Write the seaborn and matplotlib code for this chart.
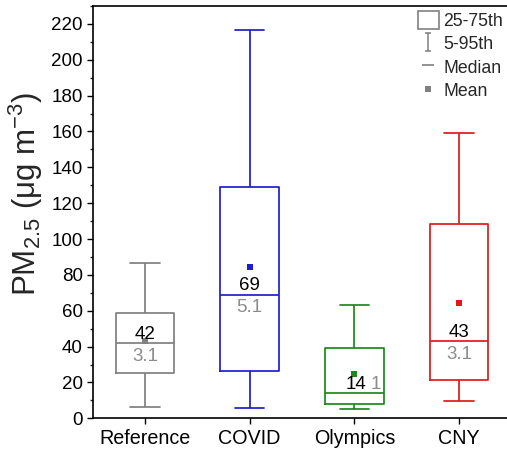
import matplotlib
matplotlib.use("Agg")
import matplotlib.pyplot as plt
import pandas as pd
import seaborn as sns
from matplotlib.lines import Line2D
from matplotlib.patches import Patch
from matplotlib.path import Path
from matplotlib.ticker import MultipleLocator

# PM2.5 summary statistics per period (ug m-3)
periods = ["Reference", "COVID", "Olympics", "CNY"]
p5 = [6.1, 5.6, 5.4, 9.8]
p25 = [25.1, 26.6, 7.8, 21.4]
median = [42, 69, 14, 43]
p75 = [59.0, 129.3, 39.1, 108.3]
p95 = [86.5, 216.8, 63.3, 159.1]
means = [43.0, 84.3, 24.6, 64.5]
ratio_labels = ["3.1", "5.1", "1", "3.1"]
colors = ["#808080", "#1f1fc8", "#1a8a1a", "#e0191b"]

sns.set_style("ticks")
plt.rcParams["font.family"] = ["Liberation Sans", "DejaVu Sans"]
plt.rcParams["mathtext.fontset"] = "custom"
plt.rcParams["mathtext.rm"] = "Liberation Sans"
plt.rcParams["mathtext.it"] = "Liberation Sans:italic"
plt.rcParams["mathtext.default"] = "regular"

# five-number rows per period; whiskers span 5th-95th
rows = []
for name, a, b, c, d, e in zip(periods, p5, p25, median, p75, p95):
    for v in (a, b, c, d, e):
        rows.append({"period": name, "pm": v})
df = pd.DataFrame(rows)
mean_df = pd.DataFrame({"period": periods, "pm": means})
palette = dict(zip(periods, colors))

fig = plt.figure(figsize=(5.07, 4.51), dpi=100)
ax = fig.add_axes([92.5 / 507, 32.7 / 451, 419 / 507, 412.3 / 451])

sns.boxplot(data=df, x="period", y="pm", hue="period", order=periods,
            hue_order=periods, palette=palette, fill=False, width=0.56,
            whis=(0, 100), linewidth=1.25, showfliers=False, legend=False,
            ax=ax)
sns.stripplot(data=mean_df, x="period", y="pm", hue="period", order=periods,
              hue_order=periods, palette=palette, jitter=False, marker="s",
              size=4.8, linewidth=0, legend=False, ax=ax, zorder=3)

lab_fs = 13.5
for i, (m, r) in enumerate(zip(median, ratio_labels)):
    if i == 2:
        ax.annotate(str(m), xy=(i, m), xytext=(1, 3), textcoords="offset points",
                    ha="center", va="baseline", fontsize=lab_fs, color="black", zorder=5)
        ax.annotate(r, xy=(i, m), xytext=(15.5, 3), textcoords="offset points",
                    ha="center", va="baseline", fontsize=lab_fs, color="#8c8c8c", zorder=5)
    else:
        ax.annotate(str(m), xy=(i, m), xytext=(0, 3), textcoords="offset points",
                    ha="center", va="baseline", fontsize=lab_fs, color="black", zorder=5)
        ax.annotate(r, xy=(i, m), xytext=(0, -3.5), textcoords="offset points",
                    ha="center", va="top", fontsize=lab_fs, color="#8c8c8c", zorder=5)

ax.set_xlim(-0.5, 3.5)
ax.set_ylim(0, 230)
ax.yaxis.set_major_locator(MultipleLocator(20))
ax.yaxis.set_minor_locator(MultipleLocator(10))
ax.tick_params(axis="both", which="major", direction="out", length=4.5,
               width=1.0, colors="black")
ax.tick_params(axis="x", labelsize=14.2, pad=3)
ax.tick_params(axis="y", labelsize=13.5, pad=2.5)
ax.tick_params(axis="y", which="minor", direction="out", length=2.5, width=1.0)
ax.set_xlabel("")
ax.set_ylabel("PM$_{2.5}$ (μg m$^{-3}$)", fontsize=22.5)
ax.yaxis.set_label_coords(-0.113, 0.545)
for s in ax.spines.values():
    s.set_visible(True)
    s.set_linewidth(1.2)
    s.set_color("black")

ibeam = Path([(-0.3, 1), (0.3, 1), (0, 1), (0, -1), (-0.3, -1), (0.3, -1)],
             [Path.MOVETO, Path.LINETO, Path.MOVETO, Path.LINETO,
              Path.MOVETO, Path.LINETO])
handles = [
    Patch(facecolor="white", edgecolor="#808080", linewidth=1.2),
    Line2D([], [], linestyle="none", marker=ibeam, markersize=13,
           markeredgecolor="#808080", markerfacecolor="none", markeredgewidth=1.1),
    Line2D([], [], linestyle="none", marker="_", markersize=8,
           markeredgecolor="#808080", markeredgewidth=1.2),
    Line2D([], [], linestyle="none", marker="s", markersize=4.5,
           markerfacecolor="#808080", markeredgewidth=0),
]
labels = ["25-75th", "5-95th", "Median", "Mean"]
fig.legend(handles, labels, loc="upper right",
           bbox_to_anchor=(503 / 507, 1 - 11 / 451), bbox_transform=fig.transFigure,
           frameon=False, fontsize=12.7, borderpad=0, borderaxespad=0,
           handlelength=1.2, handleheight=1.2, handletextpad=0.25,
           labelspacing=0.25)

fig.savefig("out.png", dpi=100)
